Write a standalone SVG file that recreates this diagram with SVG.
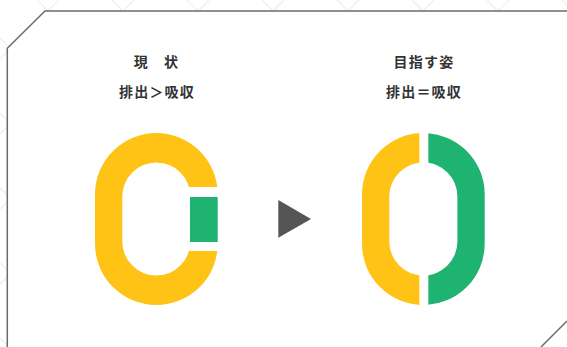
<svg xmlns="http://www.w3.org/2000/svg" xmlns:xlink="http://www.w3.org/1999/xlink" width="567" height="347" viewBox="0 0 567 347">
  <style>
    .lbl { font-family: "Noto Sans CJK JP", "Noto Sans CJK SC", sans-serif; font-weight: 700; font-size: 14px; fill: #333333; text-anchor: middle; letter-spacing: 1.2px; }
    .frame { fill: none; stroke: #6b6b6b; stroke-width: 1.5; }
    .yel { fill: #FEC314; }
    .grn { fill: #1EB371; }
  </style>
  <defs>
    <pattern id="lattice" patternUnits="userSpaceOnUse" x="0" y="0" width="75" height="75">
      <path d="M59,0 L0,59 M75,59 L59,75 M37,0 L75,38 M0,38 L37,75" stroke="#f0f0f0" stroke-width="1.5" fill="none"/>
    </pattern>
    <path id="ring" fill-rule="evenodd" d="M0,133 A61.35,61.35 0 0 1 61.35,194.35 L61.35,243.65 A61.35,61.35 0 0 1 0,305 A61.35,61.35 0 0 1 -61.35,243.65 L-61.35,194.35 A61.35,61.35 0 0 1 0,133 Z M0,162.5 A34.05,34.05 0 0 0 -34.05,196.55 L-34.05,241.45 A34.05,34.05 0 0 0 0,275.5 A34.05,34.05 0 0 0 34.05,241.45 L34.05,196.55 A34.05,34.05 0 0 0 0,162.5 Z"/>
    <clipPath id="leftHalf"><rect x="-70" y="120" width="66" height="200"/></clipPath>
    <clipPath id="rightHalf"><rect x="5" y="120" width="66" height="200"/></clipPath>
  </defs>

  <rect x="0" y="0" width="567" height="347" fill="#ffffff"/>
  <rect x="0" y="0" width="567" height="347" fill="url(#lattice)"/>
  <polygon points="45,11 567,11 567,321 541,347 7,347 7,48" fill="#ffffff"/>
  <path class="frame" d="M7.3,347 L7.3,48.3 L45,11 L567,11 M567,321 L541,347"/>

  <g id="current">
    <text class="lbl" x="156.5" y="67">現　状</text>
    <text class="lbl" x="157" y="97">排出＞吸収</text>
    <use xlink:href="#ring" href="#ring" class="yel" transform="translate(156.35,0)"/>
    <rect x="185" y="187" width="40" height="64" fill="#ffffff"/>
    <rect class="grn" x="190" y="197" width="27.7" height="45"/>
  </g>

  <g id="connectors">
    <polygon points="278.3,200 311,219 278.3,237.7" fill="#555555"/>
  </g>

  <g id="target">
    <text class="lbl" x="424" y="67">目指す姿</text>
    <text class="lbl" x="424" y="97">排出＝吸収</text>
    <g transform="translate(423.35,0)">
      <use xlink:href="#ring" href="#ring" class="yel" clip-path="url(#leftHalf)"/>
      <use xlink:href="#ring" href="#ring" class="grn" clip-path="url(#rightHalf)"/>
    </g>
  </g>
</svg>
